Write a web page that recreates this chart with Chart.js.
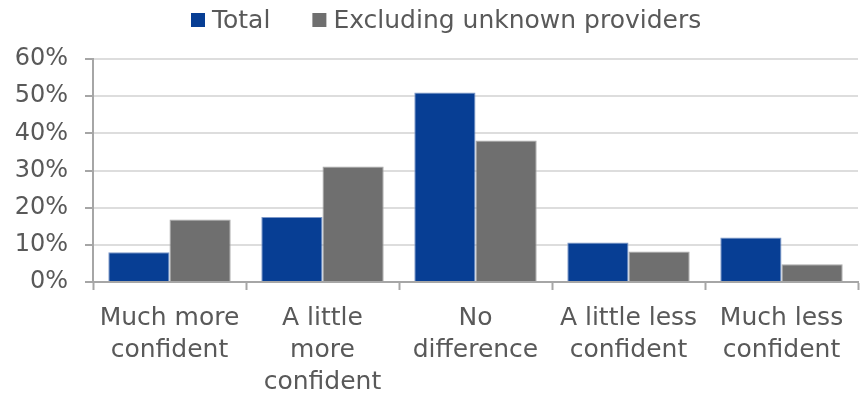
<!DOCTYPE html>
<html>
<head>
<meta charset="utf-8">
<script src="https://cdn.jsdelivr.net/npm/chart.js@4.4.0/dist/chart.umd.min.js"></script>
<style>
html,body{margin:0;padding:0;background:#fff;}
#wrap{width:864px;height:396px;position:relative;}
</style>
</head>
<body>
<div id="wrap"><canvas id="c" width="864" height="396"></canvas></div>
<script>
const categories = [
  ["Much more", "confident"],
  ["A little", "more", "confident"],
  ["No", "difference"],
  ["A little less", "confident"],
  ["Much less", "confident"]
];
const seriesNames = ["Total", "Excluding unknown providers"];
const totalValues = [8.0, 17.5, 51.0, 10.6, 12.0];
const excludingValues = [16.8, 31.1, 38.1, 8.2, 4.8];
const yTickMax = 60;
const yTickStep = 10;

const FONT = "'DejaVu Sans', sans-serif";
const TEXT = '#595959';
const BLUE = '#073e94';
const GREY = '#6f6f6f';

const legendPlugin = {
  id: 'customLegend',
  afterDraw(chart) {
    const ctx = chart.ctx;
    ctx.save();
    ctx.font = '25px ' + FONT;
    ctx.textBaseline = 'alphabetic';
    ctx.textAlign = 'left';
    let x = 191;
    const colors = [BLUE, GREY];
    seriesNames.forEach((name, i) => {
      ctx.fillStyle = colors[i];
      ctx.fillRect(x, 13, 14, 14);
      x += 14 + 7;
      ctx.fillStyle = TEXT;
      ctx.fillText(name, x, 28);
      x += ctx.measureText(name).width + 42;
    });
    ctx.restore();
  }
};

new Chart(document.getElementById('c'), {
  type: 'bar',
  data: {
    labels: categories,
    datasets: [
      { label: seriesNames[0], data: totalValues, backgroundColor: BLUE, borderColor: '#7d98c8', borderWidth: 1 },
      { label: seriesNames[1], data: excludingValues, backgroundColor: GREY, borderColor: '#a9a9a9', borderWidth: 1 }
    ]
  },
  options: {
    responsive: false,
    animation: false,
    devicePixelRatio: 1,
    layout: { padding: { top: 59, left: 12, right: 6, bottom: 0 } },
    datasets: { bar: { categoryPercentage: 0.8, barPercentage: 1.0 } },
    plugins: { legend: { display: false }, tooltip: { enabled: false } },
    scales: {
      x: {
        afterFit: s => { s.height = 114; },
        grid: { display: true, drawOnChartArea: false, offset: true, tickLength: 8, tickColor: '#a6a6a6', tickWidth: 2 },
        border: { display: true, color: '#a6a6a6', width: 2 },
        ticks: { color: TEXT, font: { family: FONT, size: 25, lineHeight: 1.28 }, maxRotation: 0, autoSkip: false, padding: 12 }
      },
      y: {
        min: 0, max: yTickMax,
        afterFit: s => { s.width = 81; },
        grid: { color: '#dddddd', lineWidth: 2, tickLength: 8, tickColor: '#a6a6a6', tickWidth: 2 },
        border: { display: true, color: '#a6a6a6', width: 2 },
        ticks: { stepSize: yTickStep, color: TEXT, font: { family: FONT, size: 24 }, padding: 17, callback: v => v + '%' }
      }
    }
  },
  plugins: [legendPlugin]
});
</script>
</body>
</html>
